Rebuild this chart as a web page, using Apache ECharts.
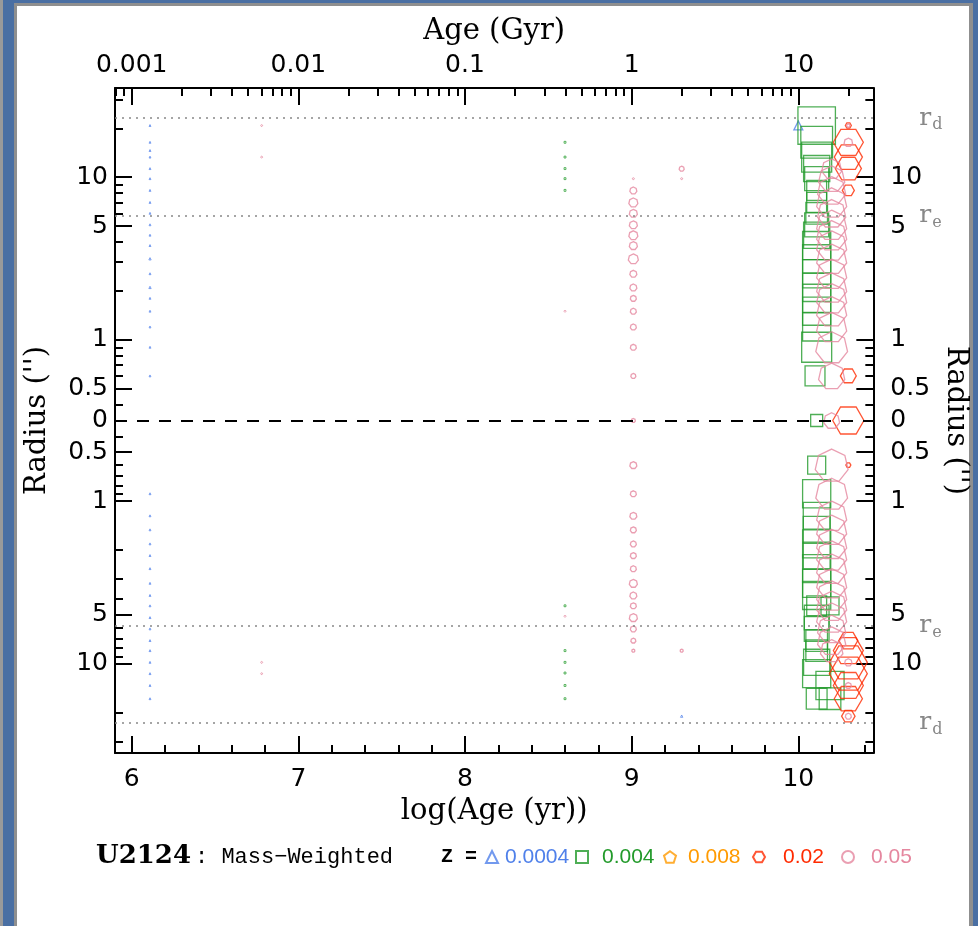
<!DOCTYPE html>
<html><head><meta charset="utf-8">
<script src="https://cdn.jsdelivr.net/npm/echarts@6/dist/echarts.min.js"></script>
<style>
html,body{margin:0;padding:0;width:978px;height:926px;overflow:hidden;background:#4a6fa3;}
#edge{position:absolute;left:0;top:0;width:3px;height:926px;background:#9a9a9a;}
#panel{position:absolute;left:14px;top:3px;width:959px;height:923px;background:#8f8f8f;}
#white{position:absolute;left:17px;top:6px;width:952px;height:920px;background:#fff;}
#chart{position:absolute;left:0;top:0;width:978px;height:926px;}
</style></head>
<body>
<div id="edge"></div><div id="panel"></div><div id="white"></div>
<div id="chart"></div>
<script>
// ---------- data ----------
const R0 = 0.319;              // radius mapped to the centre of the log radius axis
const X_MIN = 5.9, X_MAX = 10.45, U_LIM = 2.045;
const xMajor = [6, 7, 8, 9, 10];
const xMajorLabels = ['6', '7', '8', '9', '10'];
const xMinor = [6.2,6.4,6.6,6.8,7.2,7.4,7.6,7.8,8.2,8.4,8.6,8.8,9.2,9.4,9.6,9.8,10.2,10.4];
const topLabels = ['0.001', '0.01', '0.1', '1', '10'];
const yMajorR = [0.5, 1, 5, 10];
const yMinorR = [0.4, 0.6, 0.7, 0.8, 0.9, 2, 3, 4, 6, 7, 8, 9, 20, 30];
const rEffective = 5.75, rDisk = 22.9;
const zNames = ['0.0004', '0.004', '0.008', '0.02', '0.05'];
const zColors = ['#4f80ea', '#229a2a', '#ff9a00', '#ff2a00', '#e5879f'];

// [log(age), signed radius (arcsec), mass weight]
const z0004 = [
 [6.11,20.8,0.1],[6.11,16.4,0.1],[6.11,14.6,0.1],[6.11,13.3,0.1],[6.11,11.3,0.1],[6.11,9.8,0.1],
 [6.11,8.3,0.1],[6.11,7.0,0.1],[6.11,6.0,0.1],[6.11,5.1,0.1],[6.11,4.4,0.1],[6.11,3.8,0.1],
 [6.11,3.15,0.15],[6.11,2.55,0.1],[6.11,2.1,0.15],[6.11,1.8,0.1],[6.11,1.5,0.1],[6.11,1.2,0.1],
 [6.11,0.9,0.1],[6.11,0.6,0.1],
 [6.11,-0.9,0.1],[6.11,-1.23,0.1],[6.11,-1.5,0.1],[6.11,-1.83,0.1],[6.11,-2.16,0.1],[6.11,-2.6,0.1],
 [6.11,-3.2,0.1],[6.11,-3.8,0.1],[6.11,-4.4,0.1],[6.11,-5.2,0.1],[6.11,-6.1,0.1],[6.11,-7.2,0.1],
 [6.11,-8.3,0.1],[6.11,-9.8,0.1],[6.11,-11.5,0.1],[6.11,-13.6,0.1],[6.11,-16.4,0.1],
 [9.3,-21,0.15],[10.0,20.8,2.2]
];
const z004 = [
 [8.6,16.4,0.1],[8.6,13.3,0.1],[8.6,11.3,0.1],[8.6,9.8,0.1],[8.6,8.3,0.1],
 [8.6,-4.4,0.1],[8.6,-8.3,0.1],[8.6,-9.8,0.1],[8.6,-11.4,0.1],[8.6,-13.6,0.1],[8.6,-16.4,0.1],
 [10.11,20.8,39],[10.11,16.4,28],[10.11,13.3,25],[10.11,11.3,19],[10.11,9.8,16],[10.11,8.3,11],
 [10.11,7.0,11],[10.11,6.0,13],[10.11,5.1,16],[10.11,4.4,19],[10.11,3.8,22],[10.11,3.15,22],
 [10.11,2.55,22],[10.11,2.1,22],[10.11,1.8,22],[10.11,1.5,22],[10.11,1.2,22],[10.11,0.9,25],
 [10.1,0.6,11],[10.11,0,4],
 [10.11,-0.6,9],[10.11,-0.9,22],[10.11,-1.23,20],[10.11,-1.5,20],[10.11,-1.83,22],[10.11,-2.16,20],
 [10.11,-2.6,22],[10.11,-3.2,22],[10.11,-3.8,22],[10.11,-4.4,11],[10.19,-4.4,9],[10.11,-5.2,17],
 [10.11,-6.1,17],[10.11,-7.2,13],[10.11,-8.3,13],[10.11,-9.8,19],[10.11,-11.5,22],[10.19,-13.6,22],
 [10.11,-16.4,12],[10.19,-16.4,13]
];
const z008 = [];
const z02 = [
 [10.3,20.8,1],[10.3,16.4,25],[10.3,13.3,22],[10.3,11.3,19],[10.3,8.3,4],[10.3,0.6,7],[10.3,0,27],
 [10.3,-0.6,0.7],[10.3,-7.2,10],[10.3,-8.3,25],[10.3,-9.8,40],[10.3,-11.5,40],[10.3,-13.6,25],
 [10.3,-16.4,22],[10.3,-21,5]
];
const z05 = [
 [6.78,20.8,0.1],[6.78,13.3,0.1],[6.78,-9.8,0.1],[6.78,-11.5,0.1],
 [8.6,1.5,0.1],[8.6,-5.1,0.1],
 [9.01,9.8,0.12],[9.01,8.3,1.36],[9.01,7.0,2.25],[9.01,6.0,1.8],[9.01,5.1,1.8],[9.01,4.4,2.25],
 [9.01,3.8,1.8],[9.01,3.15,2.8],[9.01,2.55,1.36],[9.01,2.1,1.36],[9.01,1.8,1.0],[9.01,1.5,1.0],
 [9.01,1.2,1.0],[9.01,0.9,1.0],[9.01,0.6,0.7],[9.01,0,0.45],
 [9.01,-0.6,1.36],[9.01,-0.9,1.0],[9.01,-1.23,1.36],[9.01,-1.5,1.0],[9.01,-1.83,1.0],[9.01,-2.16,1.0],
 [9.01,-2.6,1.0],[9.01,-3.2,1.8],[9.01,-3.8,1.36],[9.01,-4.4,1.0],[9.01,-5.2,1.8],[9.01,-6.1,1.0],
 [9.01,-7.2,0.7],[9.01,-8.3,0.25],
 [9.3,11.3,0.7],[9.3,9.8,0.12],[9.3,-8.3,0.25],
 [10.2,11.3,11],[10.2,9.8,19],[10.2,8.3,22],[10.2,7.0,25],[10.2,6.0,22],[10.2,5.1,25],[10.2,4.4,25],
 [10.2,3.8,25],[10.2,3.15,25],[10.2,2.55,25],[10.2,2.1,25],[10.2,1.8,25],[10.2,1.5,25],[10.2,1.2,25],
 [10.2,0.9,28],[10.2,0.6,19],[10.2,0,7],
 [10.2,-0.6,30],[10.2,-0.9,28],[10.2,-1.23,25],[10.2,-1.5,25],[10.2,-1.83,25],[10.2,-2.16,25],
 [10.2,-2.6,25],[10.2,-3.2,25],[10.2,-3.8,25],[10.2,-4.4,25],[10.2,-5.2,25],[10.2,-6.1,22],
 [10.2,-7.2,22],[10.2,-8.3,14],
 [10.3,20.8,0.3],[10.3,16.4,2],[10.3,-9.8,1.5],[10.3,-13.6,1],[10.3,-21,1]
];

// ---------- helpers ----------
function toU(r) { return r === 0 ? 0 : Math.sign(r) * Math.log10(Math.abs(r) / R0); }
function sizeOf(w) { return Math.max(1.2, 6 * Math.sqrt(w)); }
const yMajorU = [], yLabelU = [], yLabelTxt = [], yMinorU = [];
yMajorR.forEach(r => { yMajorU.push(toU(r), -toU(r)); yLabelU.push(toU(r), -toU(r)); yLabelTxt.push(String(r), String(r)); });
yLabelU.push(0); yLabelTxt.push('0');
yMinorR.forEach(r => { yMinorU.push(toU(r), -toU(r)); });
const topMinor = [];
for (let d = 5; d <= 10; d++) for (let k = 2; k <= 9; k++) { const v = d + Math.log10(k); if (v > X_MIN && v < X_MAX) topMinor.push(v); }
function yLabel(v) { let bi = 0, bd = 1e9; yLabelU.forEach((t, i) => { const d = Math.abs(t - v); if (d < bd) { bd = d; bi = i; } }); return yLabelTxt[bi]; }
function xLabel(v, arr) { let bi = 0, bd = 1e9; xMajor.forEach((t, i) => { const d = Math.abs(t - v); if (d < bd) { bd = d; bi = i; } }); return arr[bi]; }

const hexPath = 'path://M0,0.866L0.5,0L1.5,0L2,0.866L1.5,1.732L0.5,1.732Z';
const pentPath = 'path://M1,0L1.951,0.691L1.588,1.809L0.412,1.809L0.049,0.691Z';
const heptPath = 'path://M1,0L1.7818,0.3765L1.9749,1.2225L1.4339,1.901L0.5661,1.901L0.0251,1.2225L0.2182,0.3765Z';
const zSymbols = ['triangle', 'rect', pentPath, hexPath, heptPath];
const zData = [z0004, z004, z008, z02, z05];

const tickStyle = { color: '#000', width: 2 };
const numFont = { fontFamily: 'DejaVu Sans', fontSize: 25, color: '#000' };
const titleFont = { fontFamily: 'DejaVu Serif', fontSize: 29, color: '#000' };

function xAxisDef(pos, major) {
  return {
    type: 'value', position: pos, min: X_MIN, max: X_MAX,
    axisLine: { show: major, onZero: false, lineStyle: tickStyle },
    axisTick: { show: true, inside: true, length: major ? 17 : 8, customValues: major ? xMajor : (pos === 'top' ? topMinor : xMinor), lineStyle: tickStyle },
    axisLabel: major ? Object.assign({ show: true, customValues: xMajor, margin: pos === 'top' ? 10 : 14,
      formatter: v => xLabel(v, pos === 'top' ? topLabels : xMajorLabels) }, numFont) : { show: false },
    splitLine: { show: false },
    name: major ? (pos === 'top' ? 'Age (Gyr)' : 'log(Age (yr))') : '',
    nameLocation: 'middle', nameGap: pos === 'top' ? 42 : 42, nameTextStyle: titleFont
  };
}
function yAxisDef(pos, major) {
  return {
    type: 'value', position: pos, min: -U_LIM, max: U_LIM,
    axisLine: { show: major, onZero: false, lineStyle: tickStyle },
    axisTick: { show: true, inside: true, length: major ? 17 : 8, customValues: major ? yMajorU : yMinorU, lineStyle: tickStyle },
    axisLabel: major ? Object.assign({ show: true, customValues: yLabelU, margin: pos === 'left' ? 7 : 17, formatter: yLabel }, numFont) : { show: false },
    splitLine: { show: false },
    name: major ? "Radius ('')" : '', nameLocation: 'middle', nameRotate: pos === 'left' ? 90 : -90,
    nameGap: pos === 'left' ? 63 : 65, nameTextStyle: titleFont
  };
}

const series = zNames.map((n, i) => ({
  name: n, type: 'scatter', xAxisIndex: 0, yAxisIndex: 0,
  symbol: zSymbols[i], symbolKeepAspect: true,
  symbolSize: v => sizeOf(v[2]),
  itemStyle: { color: 'rgba(0,0,0,0)', borderColor: zColors[i], borderWidth: 1.3 },
  emphasis: { disabled: true },
  data: zData[i].map(d => d[2] < 0.2
    ? { value: [d[0], toU(d[1]), d[2]], itemStyle: { borderWidth: 0.9 } }
    : [d[0], toU(d[1]), d[2]])
}));

const refLabel = (sub) => ({
  show: true, position: 'end', distance: 46, formatter: '{r|r}{s|' + sub + '}',
  rich: { r: { fontFamily: 'DejaVu Serif', fontSize: 25, color: '#888' },
          s: { fontFamily: 'DejaVu Serif', fontSize: 16, color: '#888', padding: [14, 0, 0, 1] } }
});
series.push({
  type: 'scatter', xAxisIndex: 0, yAxisIndex: 0, data: [], silent: true,
  markLine: {
    silent: true, symbol: 'none', animation: false,
    data: [
      { yAxis: toU(rDisk), lineStyle: { color: '#888', width: 1.6, type: [2, 5] }, label: refLabel('d') },
      { yAxis: toU(rEffective), lineStyle: { color: '#888', width: 1.6, type: [2, 5] }, label: refLabel('e') },
      { yAxis: -toU(rEffective), lineStyle: { color: '#888', width: 1.6, type: [2, 5] }, label: refLabel('e') },
      { yAxis: -toU(rDisk), lineStyle: { color: '#888', width: 1.6, type: [2, 5] }, label: refLabel('d') },
      { yAxis: 0, lineStyle: { color: '#000', width: 1.8, type: [12, 10] }, label: { show: false } }
    ]
  }
});

const legendLefts = [485, 575, 663, 752, 841];
const legendPads = [2, 9, 7, 13, 12];
const legends = zNames.map((n, i) => ({
  left: legendLefts[i], top: 845, padding: 0, itemWidth: 12, itemHeight: 12, selectedMode: false,
  data: [{ name: n, icon: i === 4 ? 'circle' : undefined }],
  textStyle: { fontFamily: 'Liberation Sans', fontSize: 21, color: zColors[i], padding: [0, 0, 0, legendPads[i]], lineHeight: 24 }
}));

const chart = echarts.init(document.getElementById('chart'), null, { renderer: 'canvas' });
chart.setOption({
  animation: false,
  backgroundColor: 'transparent',
  grid: { left: 115, top: 88, width: 761, height: 665, containLabel: false },
  xAxis: [xAxisDef('bottom', true), xAxisDef('bottom', false), xAxisDef('top', true), xAxisDef('top', false)],
  yAxis: [yAxisDef('left', true), yAxisDef('left', false), yAxisDef('right', true), yAxisDef('right', false)],
  legend: legends,
  graphic: [
    { type: 'text', left: 96, top: 843, style: { text: 'U2124', fontFamily: 'DejaVu Serif', fontWeight: 'bold', fontSize: 26, fill: '#000' } },
    { type: 'text', left: 195, top: 846, style: { text: ': Mass\u2212Weighted', fontFamily: 'Liberation Mono', fontSize: 22, fill: '#000' } },
    { type: 'text', left: 441, top: 847, style: { text: 'Z =', fontFamily: 'Liberation Mono', fontWeight: 'bold', fontSize: 20, fill: '#000' } }
  ],
  series: series
});
</script>
</body></html>
